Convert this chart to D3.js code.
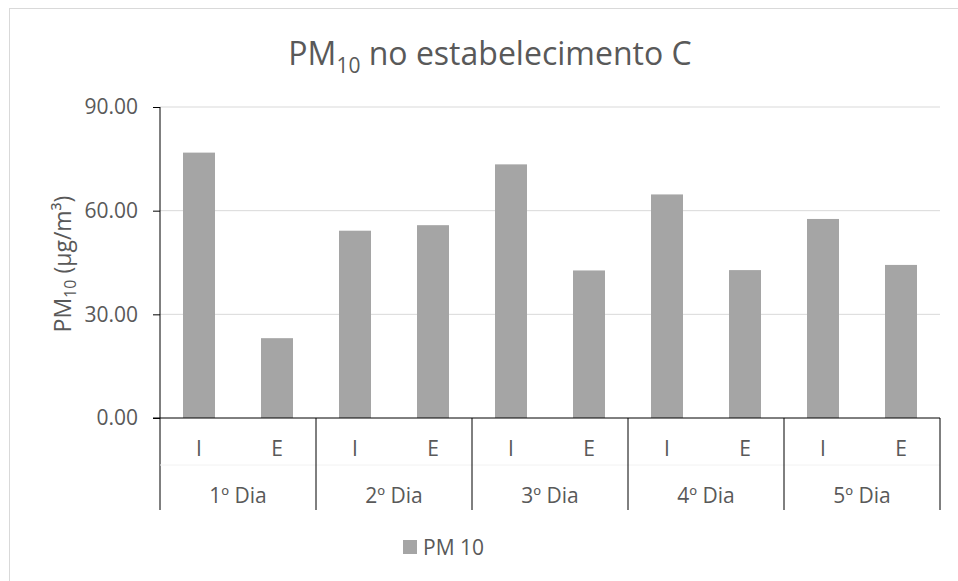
<!DOCTYPE html>
<html>
<head>
  <style>
    body { margin: 0; background: #fff; font-family: "Open Sans", sans-serif; }
    text { fill: #595959; }
  </style>
  <script src="https://d3js.org/d3.v7.min.js"></script>
</head>
<body>
<svg id="chart" width="958" height="581"></svg>
<script>
const days = ["1º Dia", "2º Dia", "3º Dia", "4º Dia", "5º Dia"];
const points = ["I", "E"];
const pm10 = [76.8, 23.1, 54.2, 55.8, 73.4, 42.7, 64.7, 42.8, 57.6, 44.3];
const yTicks = [0, 30, 60, 90];

const svg = d3.select("#chart");
const margin = { top: 107, left: 160, right: 18, bottom: 163 };
const W = 958, H = 581;
const width = W - margin.left - margin.right;
const height = H - margin.top - margin.bottom;

// outer chart border
svg.append("rect")
  .attr("x", 9.5).attr("y", 8.5)
  .attr("width", 960).attr("height", 590)
  .attr("fill", "none").attr("stroke", "#d9d9d9");

const g = svg.append("g").attr("transform", `translate(${margin.left},${margin.top})`);

const keys = [];
days.forEach(d => points.forEach(p => keys.push(d + "|" + p)));
const data = keys.map((k, i) => ({ key: k, day: k.split("|")[0], pt: k.split("|")[1], v: pm10[i] }));

const x = d3.scaleBand().domain(keys).range([0, width]).paddingInner(0.59).paddingOuter(0.295);
const xDay = d3.scaleBand().domain(days).range([0, width]);
const y = d3.scaleLinear().domain([0, 90]).range([height, 0]);

// gridlines
g.selectAll(".grid").data(yTicks.filter(t => t > 0)).join("line")
  .attr("x1", 0).attr("x2", width)
  .attr("y1", d => y(d)).attr("y2", d => y(d))
  .attr("stroke", "#d9d9d9").attr("stroke-width", 1);

// bars
g.selectAll(".bar").data(data).join("rect")
  .attr("x", d => x(d.key))
  .attr("width", x.bandwidth())
  .attr("y", d => y(d.v))
  .attr("height", d => height - y(d.v))
  .attr("fill", "#a5a5a5");

// y axis
const yAxis = g.append("g").call(d3.axisLeft(y).tickValues(yTicks).tickFormat(d3.format(".2f")).tickSize(7).tickPadding(15));
yAxis.select(".domain").remove();
yAxis.selectAll("line").attr("stroke", "#000");
yAxis.selectAll("text").attr("fill", "#595959").style("font-size", "21px").style("font-family", "Open Sans");

// axis lines
const tableH = 92;
g.append("line").attr("x1", -7).attr("x2", width).attr("y1", height).attr("y2", height).attr("stroke", "#000");
g.append("line").attr("x1", 0).attr("x2", 0).attr("y1", 0).attr("y2", height + tableH).attr("stroke", "#000");

// category table
g.append("line").attr("x1", 0).attr("x2", width).attr("y1", height + 47).attr("y2", height + 47).attr("stroke", "#f2f2f2");
g.selectAll(".div").data(days).join("line")
  .attr("x1", d => xDay(d) + xDay.bandwidth()).attr("x2", d => xDay(d) + xDay.bandwidth())
  .attr("y1", height).attr("y2", height + tableH)
  .attr("stroke", "#000");

g.selectAll(".pt").data(data).join("text")
  .attr("x", d => x(d.key) + x.bandwidth() / 2)
  .attr("y", height + 38)
  .attr("text-anchor", "middle")
  .style("font-size", "21px")
  .text(d => d.pt);

g.selectAll(".day").data(days).join("text")
  .attr("x", d => xDay(d) + xDay.bandwidth() / 2)
  .attr("y", height + 85)
  .attr("text-anchor", "middle")
  .style("font-size", "21px")
  .text(d => d);

// title
const title = svg.append("text")
  .attr("x", 490).attr("y", 65)
  .attr("text-anchor", "middle")
  .style("font-size", "32px");
title.append("tspan").text("PM");
title.append("tspan").attr("dy", 8).style("font-size", "21px").text("10");
title.append("tspan").attr("dy", -8).text(" no estabelecimento C");

// y axis title
const yt = svg.append("text")
  .attr("transform", `translate(71,264) rotate(-90)`)
  .attr("text-anchor", "middle")
  .style("font-size", "23px");
yt.append("tspan").text("PM");
yt.append("tspan").attr("dy", 5).style("font-size", "16px").text("10");
yt.append("tspan").attr("dy", -5).text(" (µg/m³)");

// legend
const lg = svg.append("g").attr("transform", "translate(403,540)");
lg.append("rect").attr("width", 14).attr("height", 14).attr("fill", "#a5a5a5");
lg.append("text").attr("x", 20).attr("y", 15).style("font-size", "21px").text("PM 10");
</script>
</body>
</html>
